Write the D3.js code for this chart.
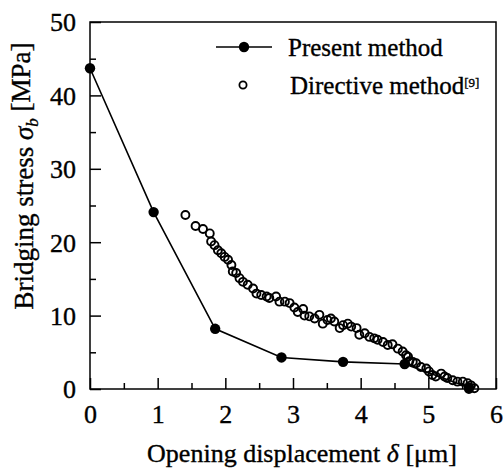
<!DOCTYPE html>
<html>
<head>
<meta charset="utf-8">
<title>Bridging stress</title>
<style>
    body { margin: 0; background: #fff; }
    text { font-family: "Liberation Serif", "DejaVu Serif", serif; fill: #000; stroke: #000; stroke-width: 0.35; }
</style>
</head>
<body>
<svg id="chart" width="504" height="473"></svg>
<script src="https://cdn.jsdelivr.net/npm/d3@7/dist/d3.min.js"></script>
<script>
    // present method (filled dots, joined)
    const presentX = [0, 0.94, 1.85, 2.83, 3.74, 4.65, 5.6];
    const presentY = [43.7, 24.1, 8.2, 4.3, 3.7, 3.4, 0.2];

    // directive method [9] (open circles)
    const directiveX = [1.41, 1.56, 1.67, 1.77, 1.79, 1.84, 1.89, 1.94, 1.99, 2.04, 2.09, 2.11, 2.16, 2.21, 2.26,
        2.33, 2.41, 2.46, 2.53, 2.61, 2.65, 2.75, 2.80, 2.88, 2.95, 3.02, 3.07, 3.15, 3.17, 3.24,
        3.32, 3.39, 3.44, 3.51, 3.56, 3.61, 3.69, 3.74, 3.81, 3.86, 3.94, 3.98, 4.06, 4.13, 4.20,
        4.25, 4.33, 4.40, 4.47, 4.55, 4.62, 4.67, 4.70, 4.72, 4.77, 4.82, 4.89, 4.97, 5.01, 5.06,
        5.11, 5.19, 5.24, 5.28, 5.36, 5.43, 5.51, 5.58, 5.63, 5.68, 5.60];
    const directiveY = [23.7, 22.2, 21.8, 21.2, 20.1, 19.6, 18.9, 18.5, 18.0, 17.6, 16.9, 16.0, 15.8, 15.1, 14.6,
        14.2, 13.7, 13.0, 12.8, 12.6, 12.4, 12.6, 11.9, 11.9, 11.7, 11.1, 10.5, 10.9, 10.0, 9.9,
        9.6, 10.1, 8.9, 9.4, 9.6, 9.2, 8.3, 8.7, 8.9, 8.5, 8.3, 7.4, 7.6, 7.1, 6.9,
        6.7, 6.4, 6.0, 6.1, 5.5, 5.1, 4.6, 4.4, 3.8, 3.7, 3.5, 3.0, 2.8, 2.4, 1.9,
        1.7, 2.1, 1.7, 1.5, 1.2, 1.0, 1.0, 0.8, 0.5, 0.1, 0.0];

    const xTickValues = [0, 1, 2, 3, 4, 5, 6];
    const yTickValues = [0, 10, 20, 30, 40, 50];

    const legendLabels = ["Present method", "Directive method"];

    const svg = d3.select("#chart");

    const x = d3.scaleLinear().domain([0, 6]).range([90, 496]);
    const y = d3.scaleLinear().domain([0, 50]).range([389, 22]);

    // frame
    svg.append("rect")
        .attr("x", x(0)).attr("y", y(50))
        .attr("width", x(6) - x(0)).attr("height", y(0) - y(50))
        .attr("fill", "none").attr("stroke", "#000").attr("stroke-width", 1.5);

    // axes, ticks pointing inward
    const gx = svg.append("g").attr("transform", `translate(0,${y(0)})`)
        .call(d3.axisBottom(x).tickValues(xTickValues).tickFormat(d3.format("d"))
            .tickSize(-11).tickSizeOuter(0).tickPadding(16));
    const gxMinor = svg.append("g").attr("transform", `translate(0,${y(0)})`)
        .call(d3.axisBottom(x).tickValues(d3.range(0.5, 6, 1)).tickFormat("")
            .tickSize(-6).tickSizeOuter(0));
    const gy = svg.append("g").attr("transform", `translate(${x(0)},0)`)
        .call(d3.axisLeft(y).tickValues(yTickValues).tickFormat(d3.format("d"))
            .tickSize(-11).tickSizeOuter(0).tickPadding(14));
    const gyMinor = svg.append("g").attr("transform", `translate(${x(0)},0)`)
        .call(d3.axisLeft(y).tickValues(d3.range(5, 50, 10)).tickFormat("")
            .tickSize(-6).tickSizeOuter(0));

    [gx, gxMinor, gy, gyMinor].forEach(g => {
        g.select(".domain").remove();
        g.selectAll("line").attr("stroke", "#000").attr("stroke-width", 1.5);
    });
    gx.selectAll("text").attr("font-size", 26).attr("font-family", "Liberation Serif").attr("fill", "#000");
    gy.selectAll("text").attr("font-size", 26).attr("font-family", "Liberation Serif").attr("fill", "#000")
        .attr("dy", "0.34em");

    // present method line + dots
    const present = presentX.map((d, i) => ({ x: d, y: presentY[i] }));
    svg.append("path")
        .datum(present)
        .attr("fill", "none").attr("stroke", "#000").attr("stroke-width", 1.6)
        .attr("d", d3.line().x(d => x(d.x)).y(d => y(d.y)));
    svg.selectAll(".pdot").data(present).join("circle")
        .attr("class", "pdot")
        .attr("cx", d => x(d.x)).attr("cy", d => y(d.y)).attr("r", 5.2)
        .attr("fill", "#000");

    // directive method circles
    const directive = directiveX.map((d, i) => ({ x: d, y: directiveY[i] }));
    svg.selectAll(".ddot").data(directive).join("circle")
        .attr("class", "ddot")
        .attr("cx", d => x(d.x)).attr("cy", d => y(d.y)).attr("r", 4)
        .attr("fill", "none").attr("stroke", "#000").attr("stroke-width", 1.9);

    // legend
    const lg = svg.append("g");
    lg.append("line").attr("x1", 216).attr("x2", 272).attr("y1", 47).attr("y2", 47)
        .attr("stroke", "#000").attr("stroke-width", 1.6);
    lg.append("circle").attr("cx", 244).attr("cy", 47).attr("r", 5.2).attr("fill", "#000");
    lg.append("text").attr("x", 288).attr("y", 47).attr("dy", "0.35em")
        .attr("font-size", 25).text(legendLabels[0]);
    lg.append("circle").attr("cx", 243).attr("cy", 85).attr("r", 3.6)
        .attr("fill", "none").attr("stroke", "#000").attr("stroke-width", 1.8);
    const t2 = lg.append("text").attr("x", 290).attr("y", 85).attr("dy", "0.35em")
        .attr("font-size", 25).text(legendLabels[1]);
    t2.append("tspan").attr("font-size", 13).attr("dy", "-0.55em").text("[9]");

    // axis titles
    const xt = svg.append("text").attr("x", 302).attr("y", 462)
        .attr("text-anchor", "middle").attr("font-size", 26);
    xt.append("tspan").text("Opening displacement ");
    xt.append("tspan").attr("font-style", "italic").text("δ");
    xt.append("tspan").text(" [μm]");

    const yt = svg.append("text")
        .attr("transform", `translate(33,176) rotate(-90)`)
        .attr("text-anchor", "middle").attr("font-size", 27);
    yt.append("tspan").text("Bridging stress ");
    yt.append("tspan").attr("font-style", "italic").text("σ");
    yt.append("tspan").attr("font-style", "italic").attr("font-size", 17).attr("dy", "0.3em").text("b");
    yt.append("tspan").attr("dy", "-0.3em").text(" [MPa]");
</script>
</body>
</html>
